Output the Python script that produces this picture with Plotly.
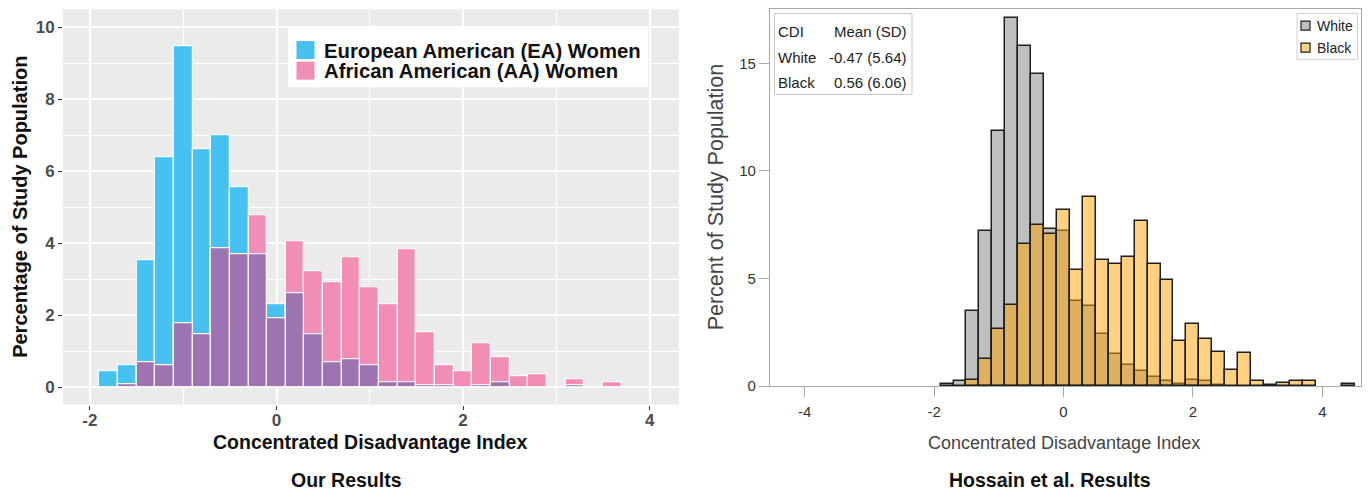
import plotly.graph_objects as go

# ---------------- data ----------------
# Left panel: "Our Results" (bin width 0.2, centers)
ours_bin_centers = [-1.8, -1.6, -1.4, -1.2, -1.0, -0.8, -0.6, -0.4, -0.2, 0.0,
                    0.2, 0.4, 0.6, 0.8, 1.0, 1.2, 1.4, 1.6, 1.8, 2.0,
                    2.2, 2.4, 2.6, 2.8, 3.0, 3.2, 3.4, 3.6]
ea_women_pct = [0.45, 0.61, 3.54, 6.39, 9.46, 6.61, 7.01, 5.55, 3.70, 2.30,
                2.60, 1.47, 0.70, 0.77, 0.62, 0.15, 0.15, 0.07, 0.07, 0.0,
                0.07, 0.15, 0.0, 0.0, 0.0, 0.07, 0.0, 0.0]
aa_women_pct = [0.0, 0.08, 0.70, 0.62, 1.77, 1.47, 3.85, 3.70, 4.77, 1.92,
                4.07, 3.22, 2.92, 3.62, 2.77, 2.30, 3.84, 1.54, 0.62, 0.45,
                1.21, 0.84, 0.30, 0.37, 0.0, 0.22, 0.0, 0.15]

# Right panel: "Hossain et al. Results"
hossain_bin_centers = [-1.8, -1.6, -1.4, -1.2, -1.0, -0.8, -0.6, -0.4, -0.2, 0.0,
                       0.2, 0.4, 0.6, 0.8, 1.0, 1.2, 1.4, 1.6, 1.8, 2.0,
                       2.2, 2.4, 2.6, 2.8, 3.0, 3.2, 3.4, 3.6, 3.8, 4.0,
                       4.2, 4.4]
white_pct = [0.08, 0.23, 3.49, 7.21, 11.86, 17.10, 15.80, 14.53, 7.29, 7.21,
             3.95, 3.72, 2.43, 1.51, 0.98, 0.70, 0.43, 0.23, 0.12, 0.28,
             0.23, 0.06, 0.0, 0.0, 0.0, 0.0, 0.0, 0.0, 0.0, 0.0,
             0.0, 0.08]
black_pct = [0.0, 0.0, 0.28, 1.27, 2.64, 3.77, 6.59, 7.49, 7.05, 8.20,
             5.38, 8.79, 5.84, 5.69, 6.00, 7.67, 5.69, 4.95, 2.12, 2.87,
             2.17, 1.58, 0.74, 1.52, 0.22, 0.06, 0.15, 0.23, 0.23, 0.0,
             0.0, 0.0]

ours_x_ticks = [-2, 0, 2, 4]
ours_y_ticks = [0, 2, 4, 6, 8, 10]
hossain_x_ticks = [-4, -2, 0, 2, 4]
hossain_y_ticks = [0, 5, 10, 15]

stats_header = ["CDI", "Mean (SD)"]
stats_groups = ["White", "Black"]
stats_values = ["-0.47 (5.64)", "0.56 (6.06)"]

ours_legend = ["European American (EA) Women", "African American (AA) Women"]
hossain_legend = ["White", "Black"]

BIN_W = 0.2

# ---------------- styles ----------------
W, H = 1370, 491
VK = 500.0 / 491.0  # vertical compensation for page capture
FONT = "Liberation Sans, Arial, sans-serif"
EA_COL = "#47C1EF"
AA_COL = "#F28DB6"
OVL_COL = "#9D74B1"
GRAY_COL = "#BFBFBF"
ORANGE_RGBA = "rgba(255,162,0,0.5)"
ORANGE_KEY = "#FFD381"
FRAME = "#A8A8A8"


def px(x):
    return x / W


def py(y):
    return 1 - (y * VK) / H


def nonzero(xs, ys):
    pts = [(a, b) for a, b in zip(xs, ys) if b > 0]
    return [p[0] for p in pts], [p[1] for p in pts]


fig = go.Figure()

# ---- left panel bars (overlay; overlap region drawn purple) ----
overlap = [min(a, b) for a, b in zip(ea_women_pct, aa_women_pct)]
for name, vals, col in [(ours_legend[0], ea_women_pct, EA_COL),
                        (ours_legend[1], aa_women_pct, AA_COL),
                        ("overlap", overlap, OVL_COL)]:
    xs, ys = nonzero(ours_bin_centers, vals)
    fig.add_trace(go.Bar(
        x=xs, y=ys, width=BIN_W, name=name, showlegend=False,
        marker=dict(color=col, line=dict(color="rgba(255,255,255,0.85)", width=1.3)),
        xaxis="x", yaxis="y"))

# ---- right panel bars ----
xs, ys = nonzero(hossain_bin_centers, white_pct)
fig.add_trace(go.Bar(
    x=xs, y=ys, width=BIN_W, name="White", showlegend=False,
    marker=dict(color=GRAY_COL, line=dict(color="#1E1E1E", width=1.5)),
    xaxis="x2", yaxis="y2"))
xs, ys = nonzero(hossain_bin_centers, black_pct)
fig.add_trace(go.Bar(
    x=xs, y=ys, width=BIN_W, name="Black", showlegend=False,
    marker=dict(color=ORANGE_RGBA, line=dict(color="#1E1E1E", width=1.5)),
    xaxis="x2", yaxis="y2"))

# ---- axes ----
L_X0, L_X1, L_Y0, L_Y1 = 63, 679, 9.3, 404
R_X0, R_X1, R_Y0, R_Y1 = 770, 1360.5, 9, 385.5

left_tickfont = dict(family=FONT, size=17, color="#4D4D4D", weight="bold")
right_tickfont = dict(family=FONT, size=15, color="#333333")

fig.update_layout(
    width=W, height=H,
    margin=dict(l=0, r=0, t=0, b=0),
    paper_bgcolor="white", plot_bgcolor="white",
    barmode="overlay", bargap=0,
    showlegend=False,
    font=dict(family=FONT),
    xaxis=dict(
        domain=[px(L_X0), px(L_X1)], anchor="y",
        range=[(L_X0 - 276.5) / 93.3, (L_X1 - 276.5) / 93.3],
        tickmode="array", tickvals=ours_x_ticks,
        ticktext=[str(v) if v >= 0 else "-" + str(-v) for v in ours_x_ticks],
        tickfont=left_tickfont, ticks="outside", ticklen=4, tickwidth=1, tickcolor="#333333",
        ticklabelstandoff=-4,
        showgrid=True, gridcolor="white", gridwidth=1.6,
        minor=dict(tickmode="linear", tick0=-1, dtick=2, showgrid=True,
                   gridcolor="white", gridwidth=0.8),
        zeroline=False, showline=False,
    ),
    yaxis=dict(
        domain=[py(L_Y1), py(L_Y0)], anchor="x",
        range=[-(L_Y1 - 386.7) / 35.94, (386.7 - L_Y0) / 35.94],
        tickmode="array", tickvals=ours_y_ticks,
        tickfont=left_tickfont, ticks="outside", ticklen=4, tickwidth=1, tickcolor="#333333",
        showgrid=True, gridcolor="white", gridwidth=1.6,
        minor=dict(tickmode="linear", tick0=1, dtick=2, showgrid=True,
                   gridcolor="white", gridwidth=0.8),
        zeroline=False, showline=False,
    ),
    xaxis2=dict(
        domain=[px(R_X0), px(R_X1)], anchor="y2",
        range=[(R_X0 - 1063.5) / 64.7, (R_X1 - 1063.5) / 64.7],
        tickmode="array", tickvals=hossain_x_ticks,
        ticktext=[str(v) if v >= 0 else "-" + str(-v) for v in hossain_x_ticks],
        tickfont=right_tickfont, ticks="outside", ticklen=10, tickwidth=1, tickcolor=FRAME,
        ticklabelstandoff=2,
        showgrid=False, zeroline=False,
        showline=True, linecolor=FRAME, linewidth=1.2, mirror=True,
    ),
    yaxis2=dict(
        domain=[py(R_Y1), py(R_Y0)], anchor="x2",
        range=[0, (R_Y1 - R_Y0) / 21.48],
        tickmode="array", tickvals=hossain_y_ticks,
        tickfont=right_tickfont, ticks="outside", ticklen=10, tickwidth=1, tickcolor=FRAME,
        showgrid=False, zeroline=False,
        showline=True, linecolor=FRAME, linewidth=1.2, mirror=True,
    ),
)

shapes = []
annotations = []

# left panel grey background
shapes.append(dict(type="rect", xref="x domain", yref="y domain", x0=0, x1=1, y0=0, y1=1,
                   fillcolor="#EBEBEB", line=dict(width=0), layer="below"))


def ann(text, x, y, size, color="#111111", bold=False, xanchor="center", angle=0):
    annotations.append(dict(
        text=text, xref="paper", yref="paper", x=px(x), y=py(y),
        xanchor=xanchor, yanchor="middle", showarrow=False, textangle=angle,
        font=dict(family=FONT, size=size, color=color, weight="bold" if bold else "normal")))


# ---- left panel legend ----
shapes.append(dict(type="rect", xref="paper", yref="paper",
                   x0=px(288), x1=px(648), y0=py(87), y1=py(27),
                   fillcolor="white", line=dict(width=0)))
for i, (lab, col) in enumerate(zip(ours_legend, [EA_COL, AA_COL])):
    top = 40.5 + i * 20.5
    shapes.append(dict(type="rect", xref="paper", yref="paper",
                       x0=px(296), x1=px(315), y0=py(top + 19), y1=py(top),
                       fillcolor=col, line=dict(color="white", width=1)))
    ann(lab, 322, top + 10, 20.3, bold=True, xanchor="left")

# ---- left panel titles ----
ann("Concentrated Disadvantage Index", 370, 441, 19.5, bold=True)
ann("Percentage of Study Population", 20, 206.5, 20, bold=True, angle=-90)
ann("Our Results", 346, 479, 19.5, bold=True)

# ---- right panel inset stats table ----
shapes.append(dict(type="rect", xref="paper", yref="paper",
                   x0=px(774.5), x1=px(912), y0=py(94.3), y1=py(13.5),
                   fillcolor="white", line=dict(color="#C8C8C8", width=1)))
row_y = [31, 57, 82]
ann(stats_header[0], 776, row_y[0], 15, color="#222222", xanchor="left")
ann(stats_header[1], 909, row_y[0], 15, color="#222222", xanchor="right")
for i, (g, v) in enumerate(zip(stats_groups, stats_values)):
    ann(g, 776, row_y[i + 1], 15, color="#222222", xanchor="left")
    ann(v, 909, row_y[i + 1], 15, color="#222222", xanchor="right")

# ---- right panel legend ----
shapes.append(dict(type="rect", xref="paper", yref="paper",
                   x0=px(1297), x1=px(1357.5), y0=py(59.3), y1=py(13.5),
                   fillcolor="white", line=dict(color="#D0D0D0", width=1)))
for i, (lab, col) in enumerate(zip(hossain_legend, [GRAY_COL, ORANGE_KEY])):
    cy = 25.5 + i * 22
    shapes.append(dict(type="rect", xref="paper", yref="paper",
                       x0=px(1301), x1=px(1310), y0=py(cy + 4.5), y1=py(cy - 4.5),
                       fillcolor=col, line=dict(color="#1E1E1E", width=1.2)))
    ann(lab, 1315, cy, 14, color="#222222", xanchor="left")

# ---- right panel titles ----
ann("Concentrated Disadvantage Index", 1064, 442, 18, color="#444444")
ann("Percent of Study Population", 716, 197, 21.5, color="#444444", angle=-90)
ann("Hossain et al. Results", 1050, 479, 19.5, bold=True)

fig.update_layout(shapes=shapes, annotations=annotations)

fig.write_html("out.html")
